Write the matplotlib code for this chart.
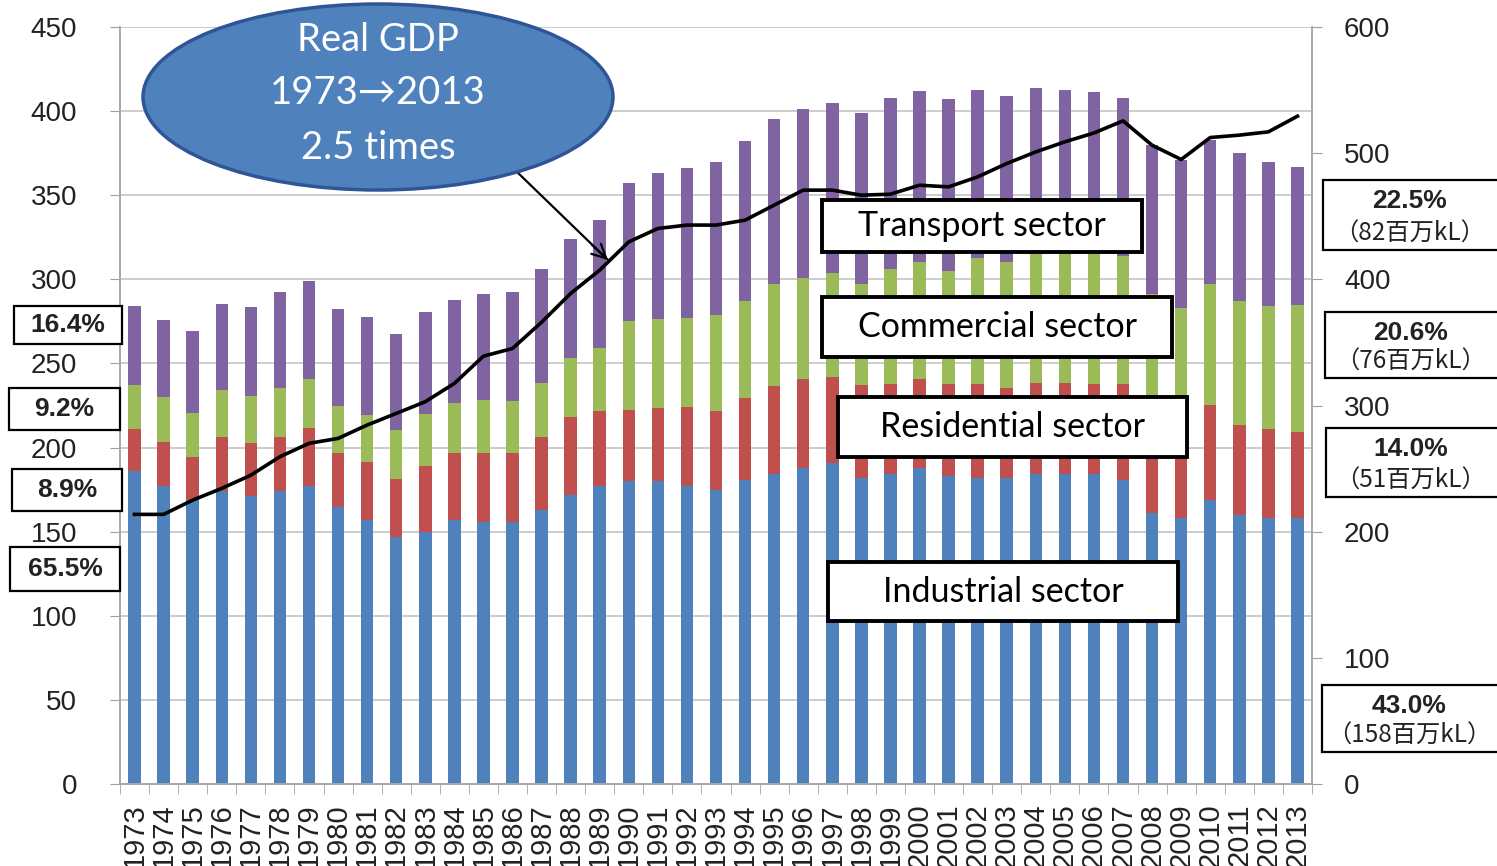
import matplotlib
matplotlib.use('Agg')
import matplotlib.pyplot as plt
from matplotlib.patches import Rectangle, Ellipse
from matplotlib.ticker import MultipleLocator, FixedLocator
import numpy as np

plt.rcParams['font.family'] = ['Liberation Sans', 'DejaVu Sans']

years = list(range(1973, 2014))

# final energy consumption by sector (million kL oil equivalent)
industrial = [186, 177, 169, 174, 171, 174, 177, 164.5, 157, 147,
              150, 157, 156, 156, 163, 172, 177, 180, 180, 177,
              175, 181, 184, 188, 191, 182, 184, 188, 183, 182,
              182, 184, 184, 184, 181, 161, 158, 169, 160, 158, 158]
residential = [25, 26.5, 25.5, 32.5, 31.5, 32, 34.5, 32, 34.5, 34.5,
               39, 40, 41, 41, 43.5, 46, 45, 42.5, 43.5, 47,
               47, 48.5, 52.5, 52.5, 51, 55, 54, 52.5, 55, 55.5,
               53.5, 54.5, 54.5, 54, 56.5, 50, 50, 56.5, 53.5, 53, 51]
commercial = [26, 26.5, 26, 27.5, 28, 29.5, 29, 28.5, 28, 29,
              31, 29.5, 31.5, 30.5, 32, 35.5, 37, 52.5, 53, 53,
              57, 57.5, 60.5, 60.5, 62, 60, 68, 70, 67, 75,
              75, 77, 77, 77.5, 76.5, 80, 75, 71.5, 73.5, 73, 76]
transport = [47, 46, 49, 51.5, 53, 57, 58.5, 57.5, 58, 57,
             60.5, 61.5, 62.5, 65, 67.5, 70.5, 76, 82.5, 87, 89,
             90.5, 95.5, 98.5, 100.5, 101, 102, 102, 101.5, 102, 100,
             98.5, 98, 97, 96, 93.5, 89, 88, 86, 88, 86, 82]
# real GDP (right axis)
gdp = [213.7, 213.7, 225, 234.3, 244.8, 259.4, 270, 273.9, 284.5, 293.7,
       303, 317.5, 339.1, 345.2, 366, 388.8, 407.3, 429.7, 440.3, 443,
       443, 446.9, 458.8, 470.7, 470.7, 466.7, 467.5, 474.6, 473.3, 481.2,
       491.8, 501, 509, 516, 525.6, 506.3, 495, 512.4, 514.3, 516.9, 529.3]

sector_colors = ['#4F81BD', '#C0504D', '#9BBB59', '#8064A2']

W, H = 1497, 866
fig = plt.figure(figsize=(W / 100, H / 100), dpi=100)
ax = fig.add_axes([120 / W, 1 - 784 / H, (1312 - 120) / W, (784 - 27) / H])
ax2 = ax.twinx()

x = np.arange(len(years))
bottom = np.zeros(len(years))
for vals, c in zip([industrial, residential, commercial, transport], sector_colors):
    ax.bar(x, vals, width=0.43, bottom=bottom, color=c, zorder=2)
    bottom += np.array(vals)

ax.set_xlim(-0.5, len(years) - 0.5)
ax.set_ylim(0, 450)
ax.yaxis.set_major_locator(MultipleLocator(50))
ax.grid(axis='y', color='#c4c4c4', linewidth=1.2)
ax.set_axisbelow(True)
ax.set_xticks(x)
ax.set_xticklabels([str(y) for y in years], rotation=90, va='top')
ax.xaxis.set_minor_locator(FixedLocator(np.arange(-0.5, len(years), 1)))
ax.tick_params(axis='x', which='major', length=0, pad=14, labelsize=21, labelcolor='#222222')
ax.tick_params(axis='x', which='minor', length=7, color='#a0a0a0')
ax.tick_params(axis='y', length=7, color='#a0a0a0', pad=24, labelsize=20, labelcolor='#222222')

ax2.plot(x, gdp, color='black', linewidth=2.6, zorder=3)
ax2.set_ylim(0, 600)
ax2.yaxis.set_major_locator(MultipleLocator(100))
ax2.tick_params(axis='y', length=7, color='#a0a0a0', pad=16, labelsize=20, labelcolor='#222222')

for a in (ax, ax2):
    a.spines['top'].set_visible(False)
    for s in ('left', 'right', 'bottom'):
        a.spines[s].set_color('#a8a8a8')
        a.spines[s].set_linewidth(1.2)


def box(x0, y0, x1, y1, lw):
    r = Rectangle((x0 / W, 1 - y1 / H), (x1 - x0) / W, (y1 - y0) / H,
                  transform=fig.transFigure, facecolor='white', edgecolor='black',
                  linewidth=lw, zorder=5)
    fig.add_artist(r)


# sector labels
sector_boxes = [
    ('Transport sector', 822, 200, 1142, 252),
    ('Commercial sector', 822, 297, 1172, 357),
    ('Residential sector', 838, 397, 1187, 457),
    ('Industrial sector', 828, 562, 1178, 621),
]
for label, x0, y0, x1, y1 in sector_boxes:
    box(x0, y0, x1, y1, 2.8)
    fig.text((x0 + x1) / 2 / W, 1 - (y0 + y1) / 2 / H, label, ha='center', va='center',
             fontsize=24.5, family=['Lato', 'DejaVu Sans'], zorder=6)

# 1973 shares
left_boxes = [
    ('16.4%', 14, 306, 122, 344),
    ('9.2%', 9, 388, 120, 430),
    ('8.9%', 12, 469, 122, 511),
    ('65.5%', 10, 547, 120, 591),
]
for label, x0, y0, x1, y1 in left_boxes:
    box(x0, y0, x1, y1, 1.6)
    fig.text((x0 + x1) / 2 / W, 1 - (y0 + y1) / 2 / H, label, ha='center', va='center',
             fontsize=19, fontweight='bold', color='#222222', zorder=6)

# 2013 shares
right_boxes = [
    ('22.5%', '（82百万kL）', 1323, 180, 1500, 250),
    ('20.6%', '（76百万kL）', 1325, 312, 1500, 378),
    ('14.0%', '（51百万kL）', 1326, 428, 1500, 497),
    ('43.0%', '（158百万kL）', 1322, 685, 1500, 752),
]
for pct, amt, x0, y0, x1, y1 in right_boxes:
    box(x0, y0, x1, y1, 1.6)
    cx = (x0 + x1 - 4) / 2 / W
    fig.text(cx, 1 - (y0 + 21) / H, pct, ha='center', va='center',
             fontsize=19, fontweight='bold', color='#222222', zorder=6)
    fig.text(cx, 1 - (y1 - 16) / H, amt, ha='center', va='center',
             fontsize=17.5, color='#222222', family=['Noto Sans CJK JP', 'DejaVu Sans'], zorder=6)

# Real GDP bubble
fig.add_artist(Ellipse((378 / W, 1 - 97 / H), 470 / W, 186 / H, transform=fig.transFigure,
                       facecolor='#4F81BD', edgecolor='#2F5597', linewidth=2.5, zorder=5))
for txt, yy in [('Real GDP', 40), ('1973→2013', 93), ('2.5 times', 148)]:
    fig.text(378 / W, 1 - yy / H, txt, ha='center', va='center', color='white',
             fontsize=27.5, family=['Lato', 'DejaVu Sans'], zorder=6)
fig.add_artist(plt.Line2D([515 / W, 609 / W], [1 - 170 / H, 1 - 261 / H],
                          transform=fig.transFigure, color='black', linewidth=1.6, zorder=4))
ax.annotate('', xy=(610 / W, 1 - 262 / H), xytext=(590 / W, 1 - 243 / H),
            xycoords='figure fraction', textcoords='figure fraction',
            arrowprops=dict(arrowstyle='->', color='black', lw=1.6, mutation_scale=25))

fig.savefig('out.png', dpi=100)
